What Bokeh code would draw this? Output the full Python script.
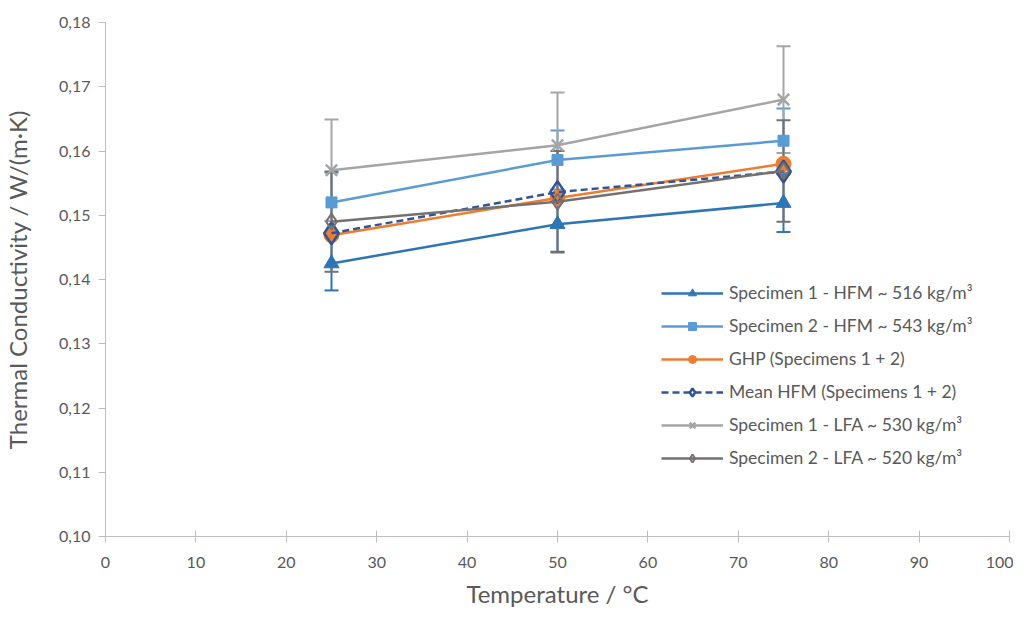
from bokeh.plotting import figure
from bokeh.models import Range1d, FixedTicker, CustomJSTickFormatter, Whisker, ColumnDataSource, Legend, TeeHead
from bokeh.embed import file_html
from bokeh.resources import INLINE

temps = [25, 50, 75]
names = ["Specimen 1 - HFM ~ 516 kg/m³", "Specimen 2 - HFM ~ 543 kg/m³", "GHP (Specimens 1 + 2)",
         "Mean HFM (Specimens 1 + 2)", "Specimen 1 - LFA ~ 530 kg/m³", "Specimen 2 - LFA ~ 520 kg/m³"]
spec1_hfm = [0.1425, 0.1486, 0.1519]
spec1_hfm_err = [0.0042, 0.0043, 0.0045]
spec2_hfm = [0.1520, 0.1586, 0.1616]
spec2_hfm_err = [0.0046, 0.0046, 0.0050]
ghp = [0.1469, 0.1527, 0.1580]
mean_hfm = [0.1472, 0.1536, 0.1568]
spec1_lfa = [0.1570, 0.1609, 0.1680]
spec1_lfa_err = [0.0079, 0.0082, 0.0083]
spec2_lfa = [0.1490, 0.1521, 0.1569]
spec2_lfa_err = [0.0078, 0.0079, 0.0079]
x_ticks = list(range(0, 101, 10))
y_ticks = [0.10, 0.11, 0.12, 0.13, 0.14, 0.15, 0.16, 0.17, 0.18]

FONT = "Lato"
TXT = "#595959"

p = figure(frame_width=904, frame_height=514, output_backend="svg", toolbar_location=None,
           x_range=Range1d(0, 100), y_range=Range1d(0.10, 0.18),
           min_border_left=104, min_border_right=4, min_border_top=22, min_border_bottom=71)
p.outline_line_color = None
p.grid.grid_line_color = None
p.background_fill_color = "white"

for ax in (p.xaxis[0], p.yaxis[0]):
    ax.axis_line_color = "#BFBFBF"
    ax.major_tick_line_color = "#BFBFBF"
    ax.minor_tick_line_color = None
    ax.major_label_text_color = TXT
    ax.major_label_text_font = FONT
    ax.major_label_text_font_size = "16px"
    ax.axis_label_text_color = TXT
    ax.axis_label_text_font = FONT
    ax.axis_label_text_font_size = "24px"
    ax.axis_label_text_font_style = "normal"

p.xaxis.ticker = FixedTicker(ticks=x_ticks)
p.yaxis.ticker = FixedTicker(ticks=y_ticks)
p.yaxis.formatter = CustomJSTickFormatter(code="return tick.toFixed(2).replace('.', ',');")
p.xaxis.major_tick_in = 6
p.xaxis.major_tick_out = 6
p.yaxis.major_tick_in = 0
p.yaxis.major_tick_out = 7
p.xaxis.axis_label = "Temperature / °C"
p.yaxis.axis_label = "Thermal Conductivity / W/(m·K)"
p.xaxis.major_label_standoff = 14
p.yaxis.major_label_standoff = 8
p.xaxis.axis_label_standoff = 8
p.yaxis.axis_label_standoff = 24

c1 = "#2E75B6"; c2 = "#5B9BD5"; c3 = "#ED7D31"; c4 = "#2F5597"; c5 = "#A5A5A5"; c6 = "#767171"

def err(vals, errs, color):
    src = ColumnDataSource(dict(x=temps, lo=[v - e for v, e in zip(vals, errs)], hi=[v + e for v, e in zip(vals, errs)]))
    w = Whisker(source=src, base="x", lower="lo", upper="hi", line_color=color, line_width=2,
                upper_head=TeeHead(size=14, line_color=color, line_width=2),
                lower_head=TeeHead(size=14, line_color=color, line_width=2))
    p.add_layout(w)

err(spec1_hfm, spec1_hfm_err, c1)
err(spec2_hfm, spec2_hfm_err, c2)
err(spec1_lfa, spec1_lfa_err, c5)
err(spec2_lfa, spec2_lfa_err, c6)

items = []
r = [p.line(temps, spec1_hfm, line_color=c1, line_width=2.5),
     p.scatter(temps, spec1_hfm, marker="triangle", size=15, fill_color=c1, line_color=c1)]
items.append((names[0], r))
r = [p.line(temps, spec2_hfm, line_color=c2, line_width=2.5),
     p.scatter(temps, spec2_hfm, marker="square", size=11, fill_color=c2, line_color=c2)]
items.append((names[1], r))
r = [p.line(temps, ghp, line_color=c3, line_width=2.5),
     p.scatter(temps, ghp, marker="circle", size=15, fill_color=c3, line_color=c3)]
items.append((names[2], r))
r = [p.line(temps, mean_hfm, line_color=c4, line_width=2.5, line_dash="7 4"),
     p.scatter(temps, mean_hfm, marker="diamond", size=22, fill_color=None, line_color=c4, line_width=2.5)]
items.append((names[3], r))
r = [p.line(temps, spec1_lfa, line_color=c5, line_width=2.5),
     p.scatter(temps, spec1_lfa, marker="x", size=16, line_color=c5, line_width=2.5)]
items.append((names[4], r))
r = [p.line(temps, spec2_lfa, line_color=c6, line_width=2.5),
     p.scatter(temps, spec2_lfa, marker="diamond", size=16, fill_color=None, line_color=c6, line_width=2)]
items.append((names[5], r))

legend = Legend(items=items, location=(556, 68), orientation="vertical",
                label_text_font=FONT, label_text_font_size="17.5px", label_text_color=TXT,
                glyph_width=62, glyph_height=20, label_height=20, spacing=12, padding=0, margin=0,
                border_line_color=None, background_fill_alpha=0, label_standoff=6)
p.add_layout(legend, "center")

open("out.html", "w").write(file_html(p, INLINE))
